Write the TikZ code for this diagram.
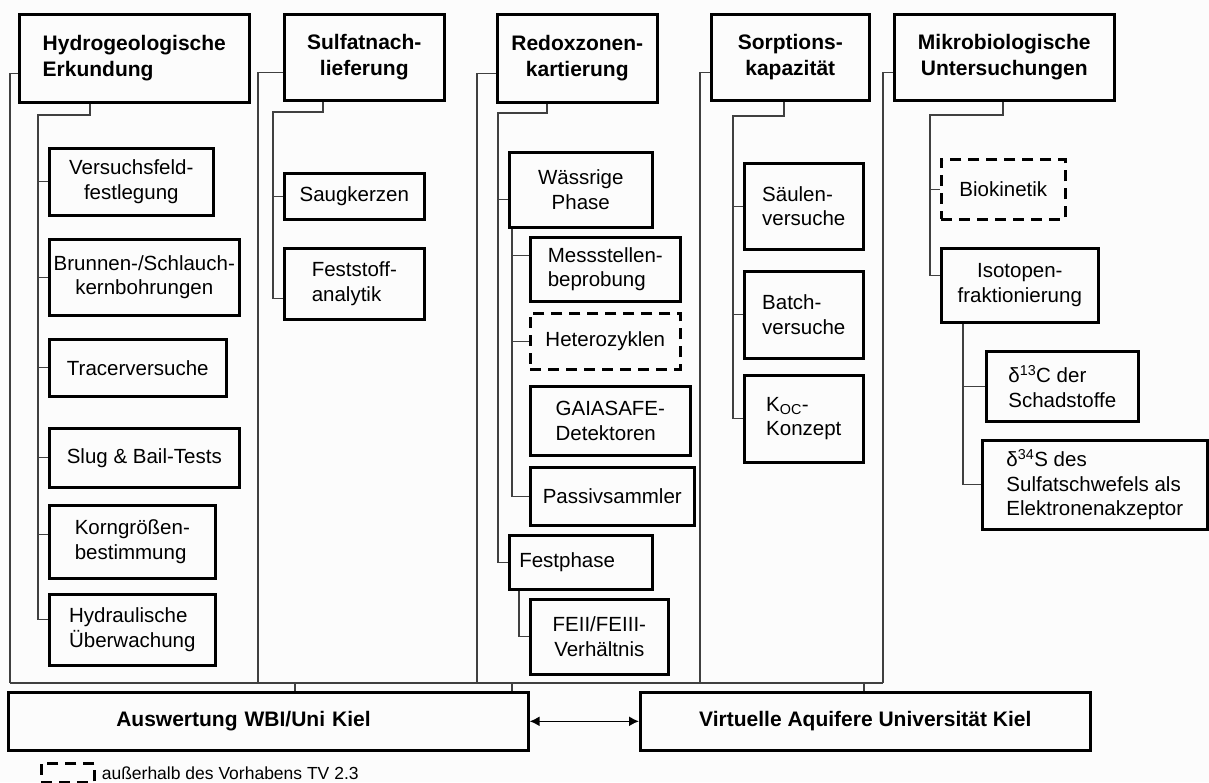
\documentclass[tikz,border=0pt]{standalone}
\usepackage{fontspec}
\setmainfont{Liberation Sans}
\usepackage{tikz}
\usetikzlibrary{arrows.meta}
\usetikzlibrary{positioning}

\definecolor{linie}{RGB}{64,64,64}
\definecolor{grund}{RGB}{252,252,252}

\begin{document}
\begin{tikzpicture}[x=1pt, y=-1pt, >={Latex[length=10pt, width=10pt]},
  haupt/.style={draw, line width=2.6pt, inner sep=0pt, anchor=north west, align=center, font=\bfseries\fontsize{21}{25.5}\selectfont},
  teil/.style={draw, line width=2.6pt, inner sep=0pt, anchor=north west, align=center, font=\fontsize{20.5}{24.5}\selectfont},
  extern/.style={teil, dash pattern=on 11pt off 7pt},
  groesse/.style 2 args={minimum width=#1pt, minimum height=#2pt},
  verb/.style={draw=linie, line width=1.3pt}]

  \fill[grund] (0,0) rectangle (1209,782);
  \useasboundingbox (0,0) rectangle (1209,782);

  % Spalte 1
  \node[haupt, align=left, groesse={230}{88}] (hydro) at (18,13) {Hydrogeologische\\Erkundung};
  \node[teil, groesse={164}{67}] (versuch) at (48,147) {Versuchsfeld-\\festlegung};
  \node[teil, groesse={190}{76}] (brunnen) at (48,238) {Brunnen-/Schlauch-\\kernbohrungen};
  \node[teil, groesse={177}{57}] (tracer) at (48,338) {Tracerversuche};
  \node[teil, groesse={190}{59}] (slug) at (48,427) {Slug \& Bail-Tests};
  \node[teil, align=left, groesse={166}{73}] (korn) at (48,504) {Korngrößen-\\bestimmung};
  \node[teil, align=left, groesse={166}{71}] (hydraul) at (48,593) {Hydraulische\\Überwachung};

  % Spalte 2
  \node[haupt, groesse={160}{86}] (sulfat) at (283,13) {Sulfatnach-\\lieferung};
  \node[teil, groesse={140}{46}] (saug) at (283,172) {Saugkerzen};
  \node[teil, align=left, groesse={140}{71}] (feststoff) at (283,247) {Feststoff-\\analytik};

  % Spalte 3
  \node[haupt, groesse={160}{88}] (redox) at (496,13) {Redoxzonen-\\kartierung};
  \node[teil, groesse={143}{75}] (waessrig) at (508,151) {Wässrige\\Phase};
  \node[teil, align=left, groesse={150}{64}] (mess) at (529,236) {Messstellen-\\beprobung};
  \node[extern, groesse={150}{56}] (hetero) at (529,312) {Heterozyklen};
  \node[teil, align=left, groesse={160}{69}] (gaia) at (529,385) {GAIASAFE-\\Detektoren};
  \node[teil, groesse={164}{58}] (passiv) at (529,466) {Passivsammler};
  \node[teil, align=left, text width=123pt, inner xsep=10pt, groesse={143}{54}] (festph) at (508,534) {Festphase};
  \node[teil, groesse={138}{75}] (feverh) at (529,598) {FEII/FEIII-\\Verhältnis};

  % Spalte 4
  \node[haupt, groesse={158}{86}] (sorption) at (710,13) {Sorptions-\\kapazität};
  \node[teil, align=left, groesse={119}{86}] (saeulen) at (743,162) {Säulen-\\versuche};
  \node[teil, align=left, groesse={119}{87}] (batch) at (743,270) {Batch-\\versuche};
  \node[teil, align=left, groesse={119}{87}] (koc) at (743,374) {K\textsubscript{OC}-\\Konzept};

  % Spalte 5
  \node[haupt, groesse={220}{86}] (mikro) at (893,13) {Mikrobiologische\\Untersuchungen};
  \node[extern, groesse={124}{60}] (biokin) at (940,158) {Biokinetik};
  \node[teil, groesse={157}{74}] (isotop) at (940,247) {Isotopen-\\fraktionierung};
  \node[teil, align=left, groesse={152}{70}] (dcarbon) at (985,350) {δ\textsuperscript{13}C der\\Schadstoffe};
  \node[teil, align=left, groesse={225}{89}] (dschwefel) at (981,439) {δ\textsuperscript{34}S des\\Sulfatschwefels als\\Elektronenakzeptor};

  % unten
  \node[haupt, align=left, text width=304pt, inner xsep=108pt, groesse={520}{58}] (auswert) at (7,691) {Auswertung WBI/Uni Kiel};
  \node[haupt, groesse={450}{58}] (virtuell) at (639,691) {Virtuelle Aquifere Universität Kiel};
  \node[extern, groesse={53}{19}] (legende) at (40,762) {};
  \node[right=6pt of legende, inner sep=0pt, font=\fontsize{17.5}{20}\selectfont] (legtext) {außerhalb des Vorhabens TV 2.3};

  % Sammelschiene
  \coordinate (r1) at (10,683);
  \coordinate (r2) at (258,683);
  \coordinate (r3) at (477,683);
  \coordinate (r4) at (700,683);
  \coordinate (r5) at (883,683);
  \draw[verb] (r1) -- (r5);
  \draw[verb] ([yshift=-15pt]hydro.west) -| (r1);
  \draw[verb] ([yshift=-15pt]sulfat.west) -| (r2);
  \draw[verb] ([yshift=-15pt]redox.west) -| (r3);
  \draw[verb] ([yshift=-15pt]sorption.west) -| (r4);
  \draw[verb] ([yshift=-15pt]mikro.west) -| (r5);

  \coordinate (t1) at (295,683);
  \coordinate (t2) at (512,683);
  \coordinate (t3) at (864,683);
  \draw[verb] (t1) -- (t1 |- auswert.north);
  \draw[verb] (t2) -- (t2 |- auswert.north);
  \draw[verb] (t3) -- (t3 |- virtuell.north);
  \draw[<->, line width=1.6pt] (auswert) -- (virtuell);

  % Spalte 1
  \coordinate (k1) at (38,115);
  \draw[verb] (hydro.south west) ++(72,0) |- (k1) |- ([yshift=10pt]hydraul.west);
  \foreach \n in {versuch, brunnen, tracer, slug}
    \draw[verb] (k1 |- \n.west) -- (\n.west);
  \draw[verb] ([yshift=7pt]korn.west) -- ++(-10,0);

  % Spalte 2
  \coordinate (k2) at (273,112);
  \draw[verb] (sulfat.south west) ++(40,0) |- (k2) |- ([yshift=-15pt]feststoff.west);
  \draw[verb] (k2 |- saug.west) -- (saug.west);

  % Spalte 3
  \coordinate (k3) at (498,113);
  \draw[verb] (redox.south west) ++(51,0) |- (k3) |- (festph.west);
  \draw[verb] ([yshift=-10pt]waessrig.west) -- ++(-10,0);
  \coordinate (k4) at ([xshift=4pt]waessrig.south west);
  \draw[verb] (k4) |- (passiv.west);
  \draw[verb] ([yshift=14pt]mess.west) -- ++(-17,0);
  \draw[verb] (k4 |- hetero.west) -- (hetero.west);
  \coordinate (k5) at ([xshift=11pt]festph.south west);
  \draw[verb] (k5) |- (feverh.west);

  % Spalte 4
  \coordinate (k6) at (733,116);
  \draw[verb] (sorption.south west) ++(74,0) |- (k6) |- (koc.west);
  \foreach \n in {saeulen, batch}
    \draw[verb] (k6 |- \n.west) -- (\n.west);

  % Spalte 5
  \coordinate (k7) at (930,115);
  \draw[verb] (mikro.south west) ++(110,0) |- (k7) |- ([yshift=10pt]isotop.west);
  \draw[verb] (k7 |- biokin.west) -- (biokin.west);
  \coordinate (k8) at ([xshift=23pt]isotop.south west);
  \draw[verb] (k8) |- (dschwefel.west);
  \draw[verb] (k8 |- dcarbon.west) -- (dcarbon.west);
\end{tikzpicture}
\end{document}
